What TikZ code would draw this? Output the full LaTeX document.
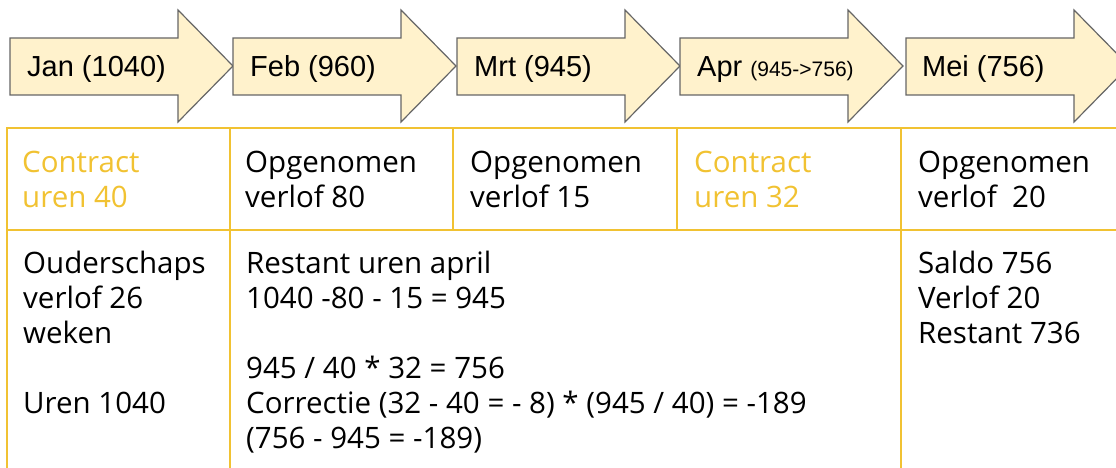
\documentclass[tikz,border=0pt]{standalone}
\usepackage{fontspec}
\setmainfont{Open Sans}
\newfontfamily\arrowfont{Liberation Sans}
\definecolor{gold}{HTML}{F1C232}
\definecolor{arrfill}{HTML}{FFF2CC}
\definecolor{arrline}{HTML}{666666}
\tikzset{
  arrowshape/.style={fill=arrfill, draw=arrline, line width=1.2pt, line join=miter},
  mlabel/.style={anchor=base west, inner sep=0pt, font=\arrowfont\fontsize{29}{34}\selectfont},
  grid/.style={draw=gold, line width=2pt},
  cell/.style={anchor=north west, inner sep=0pt, align=left, font=\fontsize{29.5}{35}\selectfont},
  goldtext/.style={text=gold}
}
\begin{document}
\begin{tikzpicture}[x=1pt,y=-1pt]
\useasboundingbox (0,0) rectangle (1116,468);
% arrows
\foreach \x in {10,233,457,680,906}{
  \draw[arrowshape] (\x,38) -- (\x+168,38) -- (\x+168,10) -- (\x+223,66)
     -- (\x+168,122) -- (\x+168,95) -- (\x,95) -- cycle;
}
\node[mlabel] (tjan) at (27,77) {Jan (1040)};
\node[mlabel] (tfeb) at (250,77) {Feb (960)};
\node[mlabel] (tmrt) at (474,77) {Mrt (945)};
\node[mlabel] (tapr) at (697,77) {Apr {\fontsize{21}{24}\selectfont(945->756)}};
\node[mlabel] (tmei) at (922,77) {Mei (756)};
% table grid
\draw[grid] (7,468) -- (7,128) -- (1116,128);
\draw[grid] (7,230) -- (1116,230);
\draw[grid] (230,128) -- (230,468);
\draw[grid] (453,128) -- (453,230);
\draw[grid] (677,128) -- (677,230);
\draw[grid] (901,128) -- (901,468);
% row 1
\node[cell, goldtext] (c1) at (22,147.5) {\strut Contract\\uren 40};
\node[cell] (c2) at (245,147.5) {\strut Opgenomen\\verlof 80};
\node[cell] (c3) at (470,147.5) {\strut Opgenomen\\verlof 15};
\node[cell, goldtext] (c4) at (694,147.5) {\strut Contract\\uren 32};
\node[cell] (c5) at (918,147.5) {\strut Opgenomen\\verlof~ 20};
% row 2
\node[cell] (d1) at (23,248.5) {\strut Ouderschaps\\verlof 26\\weken};
\node[cell] (d1b) at (23,388.5) {\strut Uren 1040};
\node[cell] (d2) at (246,248.5) {\strut Restant uren april\\1040 -80 - 15 = 945};
\node[cell] (d2b) at (246,353.5) {\strut 945 / 40 * 32 = 756\\Correctie (32 - 40 = - 8) * (945 / 40) = -189\\(756 - 945 = -189)};
\node[cell] (d3) at (918,248.5) {\strut Saldo 756\\Verlof 20\\Restant 736};
\end{tikzpicture}
\end{document}
